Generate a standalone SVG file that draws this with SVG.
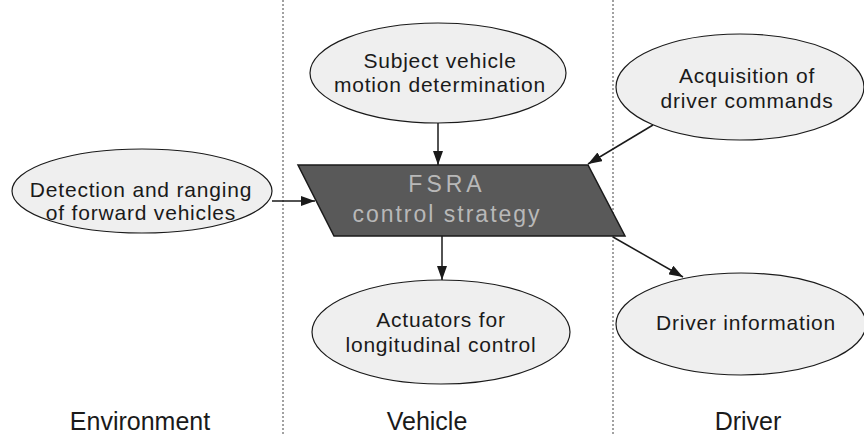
<svg xmlns="http://www.w3.org/2000/svg" width="864" height="436" viewBox="0 0 864 436">
<defs>
<style>
.node ellipse{fill:#efefef;stroke:#1a1a1a;stroke-width:1.2}
.lbl{font-family:"Liberation Sans",Arial,sans-serif;font-size:21px;letter-spacing:0.8px;fill:#1a1a1a;text-anchor:middle}
.sec{font-family:"Liberation Sans",Arial,sans-serif;font-size:25px;fill:#1a1a1a;text-anchor:middle}
.conn line{stroke:#1a1a1a;stroke-width:1.5;marker-end:url(#ah)}
.div{stroke:#444;stroke-width:1;stroke-dasharray:2,2}
</style>
<marker id="ah" viewBox="0 0 14 10" refX="14" refY="5" markerWidth="14" markerHeight="10" markerUnits="userSpaceOnUse" orient="auto">
<path d="M0,0 L14,5 L0,10 Z" fill="#1a1a1a"/>
</marker>
</defs>
<rect width="864" height="436" fill="#ffffff"/>
<g id="dividers">
<line class="div" x1="283" y1="0" x2="283" y2="436"/>
<line class="div" x1="613" y1="0" x2="613" y2="436"/>
</g>
<g id="detection" class="node">
<ellipse cx="142" cy="191" rx="130" ry="42"/>
<text class="lbl" x="141" y="197">Detection and ranging</text>
<text class="lbl" x="141" y="220">of forward vehicles</text>
</g>
<g id="subject" class="node">
<ellipse cx="438" cy="73" rx="128" ry="50"/>
<text class="lbl" x="440" y="68">Subject vehicle</text>
<text class="lbl" x="440" y="92">motion determination</text>
</g>
<g id="acquisition" class="node">
<ellipse cx="740" cy="87" rx="124" ry="53"/>
<text class="lbl" x="747" y="83">Acquisition of</text>
<text class="lbl" x="747" y="108">driver commands</text>
</g>
<g id="actuators" class="node">
<ellipse cx="441" cy="332" rx="129" ry="52"/>
<text class="lbl" x="441" y="327">Actuators for</text>
<text class="lbl" x="441" y="352">longitudinal control</text>
</g>
<g id="driverinfo" class="node">
<ellipse cx="741" cy="324" rx="125" ry="51"/>
<text class="lbl" x="746" y="330">Driver information</text>
</g>
<g id="fsra">
<polygon points="298,165 588,165 625,236 334,236" fill="#595959" stroke="#1a1a1a" stroke-width="1.5"/>
<text x="447" y="192" font-family="'Liberation Sans',Arial,sans-serif" font-size="23" letter-spacing="4" fill="#b8b8b8" text-anchor="middle">FSRA</text>
<text x="447" y="222" font-family="'Liberation Sans',Arial,sans-serif" font-size="23" letter-spacing="2" fill="#b8b8b8" text-anchor="middle">control strategy</text>
</g>
<g id="connectors" class="conn">
<line x1="272" y1="201" x2="315" y2="201"/>
<line x1="438" y1="123" x2="438" y2="165"/>
<line x1="653" y1="125" x2="588" y2="164"/>
<line x1="442" y1="236" x2="442" y2="280"/>
<line x1="613" y1="237" x2="683" y2="277"/>
</g>
<g id="sections">
<text class="sec" x="140" y="430">Environment</text>
<text class="sec" x="427" y="430">Vehicle</text>
<text class="sec" x="748" y="430">Driver</text>
</g>
</svg>
